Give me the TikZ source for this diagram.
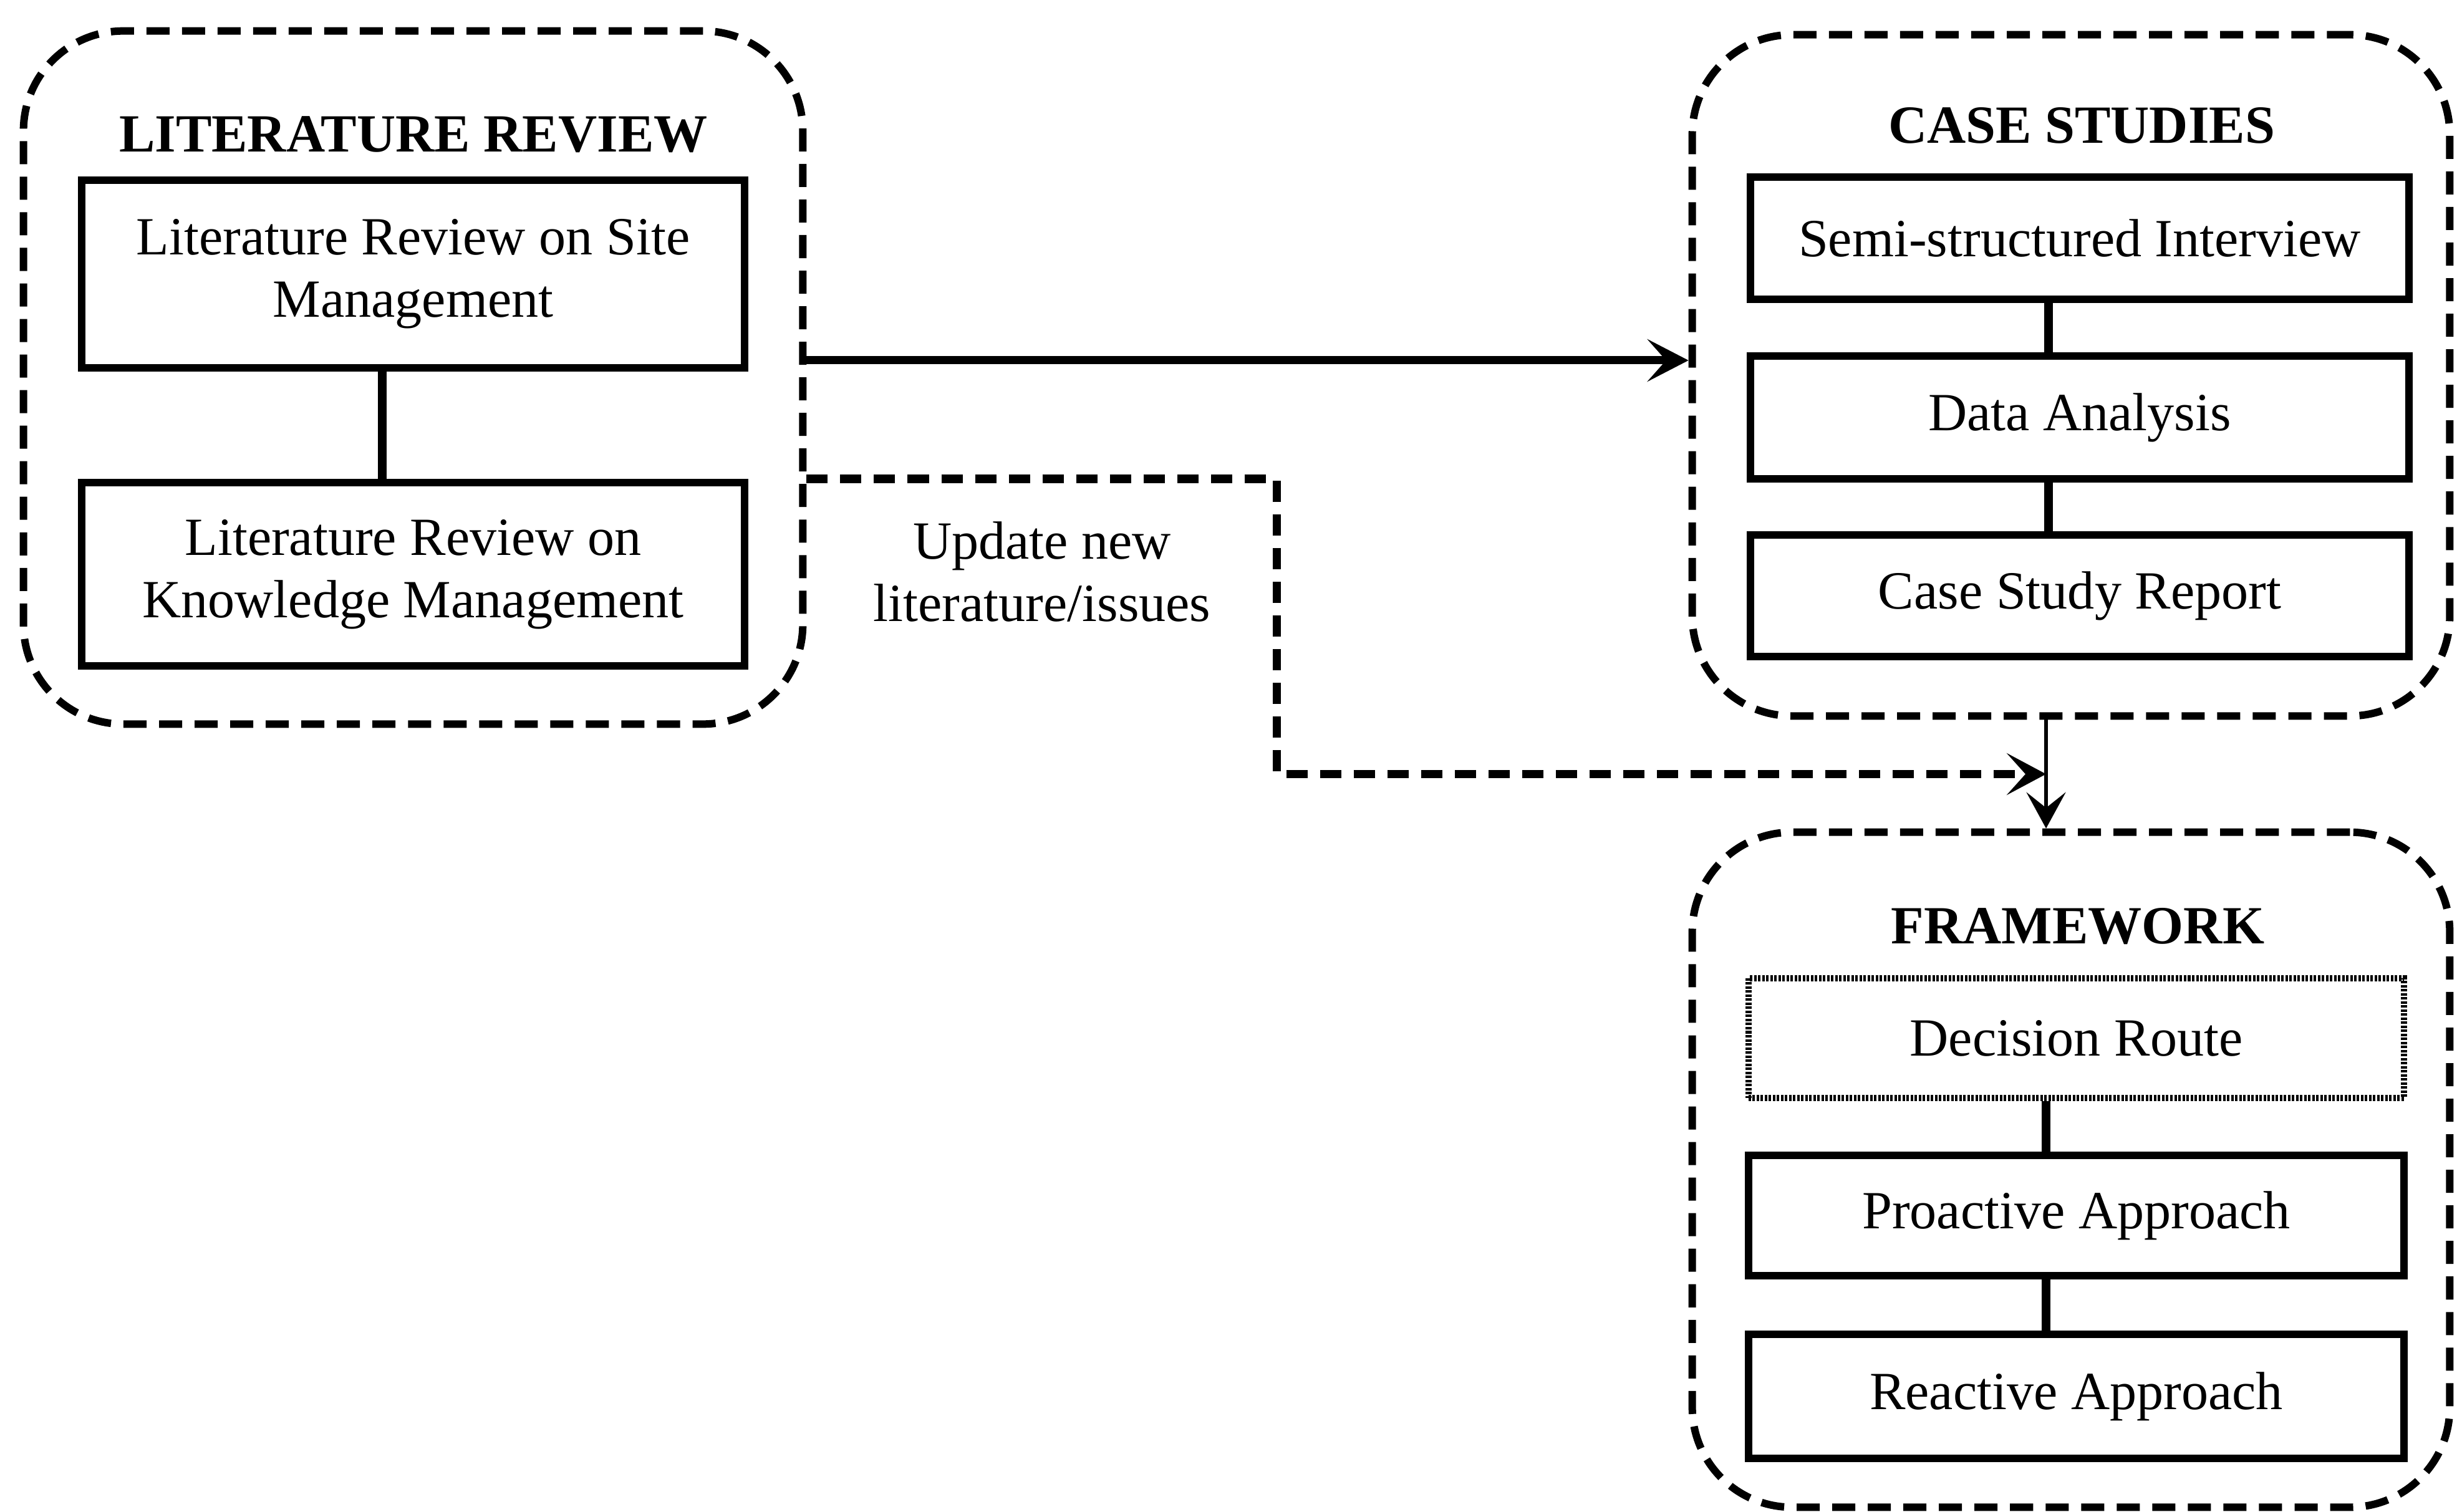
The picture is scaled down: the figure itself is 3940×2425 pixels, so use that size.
\documentclass[tikz,border=0pt]{standalone}
\usepackage{fontspec}
\setmainfont{Liberation Serif}
\usetikzlibrary{arrows.meta,calc}

\begin{document}
\begin{tikzpicture}[x=0.01cm,y=-0.01cm,
  every node/.style={font=\fontsize{24.5}{28.5}\selectfont},
  group/.style={draw, rectangle, line width=0.12cm, dash pattern=on 0.37cm off 0.2cm,
    rounded corners=1.6cm, inner sep=0pt},
  stepbox/.style={draw, rectangle, line width=0.12cm, align=center, inner sep=0pt},
  dotbox/.style={stepbox, line width=0.1cm, dash pattern=on 0.04cm off 0.025cm},
  grouptitle/.style={font=\fontsize{24.5}{28.5}\selectfont\bfseries, anchor=base},
  link/.style={line width=0.14cm},
  flow/.style={line width=0.13cm, -{Stealth[length=0.66cm,width=0.68cm,inset=0.3cm]}},
  feedback/.style={line width=0.13cm, dash pattern=on 0.34cm off 0.2cm,
    -{Stealth[length=0.63cm,width=0.67cm,inset=0.3cm]}},
  thinflow/.style={line width=0.06cm, -{Stealth[length=0.58cm,width=0.63cm,inset=0.25cm]}},
]
\useasboundingbox (0,0) rectangle (3940,2425);

% dashed group frames
\node[group, minimum width=12.49cm, minimum height=11.11cm] (lrg) at (662.5,605.5) {};
\node[group, minimum width=12.14cm, minimum height=10.92cm] (csg) at (3321,602) {};
\node[group, minimum width=12.14cm, minimum height=10.82cm] (fwg) at (3321,1876) {};

% group titles
\node[grouptitle] (lrt) at (663,244) {LITERATURE REVIEW};
\node[grouptitle] (cst) at (3338,230) {CASE STUDIES};
\node[grouptitle] (fwt) at (3332,1513) {FRAMEWORK};

% literature review steps
\node[stepbox, minimum width=10.63cm, minimum height=3.01cm] (lr1) at (662.5,439.5)
  {Literature Review on Site\\Management};
\node[stepbox, minimum width=10.63cm, minimum height=2.94cm] (lr2) at (662.5,921)
  {Literature Review on\\Knowledge Management};

% case study steps
\node[stepbox, minimum width=10.56cm, minimum height=1.96cm] (si) at (3335,382)
  {Semi-structured Interview};
\node[stepbox, minimum width=10.56cm, minimum height=1.97cm] (da) at (3335,669.5)
  {Data Analysis};
\node[stepbox, minimum width=10.56cm, minimum height=1.95cm] (csr) at (3335,955.5)
  {Case Study Report};

% framework steps
\node[dotbox, minimum width=10.51cm, minimum height=1.92cm] (dr) at (3329.5,1665)
  {Decision Route};
\node[stepbox, minimum width=10.51cm, minimum height=1.93cm] (pa) at (3329.5,1949.5)
  {Proactive Approach};
\node[stepbox, minimum width=10.51cm, minimum height=1.99cm] (ra) at (3329.5,2239.5)
  {Reactive Approach};

% feedback label
\node[align=center] (upd) at (1671,917) {Update new\\literature/issues};

% guide coordinates
\coordinate (lrx) at (613,0);
\coordinate (csx) at (3285,0);
\coordinate (fwx) at (3281,0);
\coordinate (mainy) at (0,578);
\coordinate (upy) at (0,768);
\coordinate (bendx) at (2047,0);
\coordinate (merge) at ($(csg.south -| fwx)!0.5!(fwg.north -| fwx)$);

% links inside groups
\draw[link] (lr1.south -| lrx) -- (lr2.north -| lrx);
\draw[link] (si.south -| csx) -- (da.north -| csx);
\draw[link] (da.south -| csx) -- (csr.north -| csx);
\draw[link] (dr.south -| fwx) -- (pa.north -| fwx);
\draw[link] (pa.south -| fwx) -- (ra.north -| fwx);

% flow between groups
\draw[flow] (lrg.east |- mainy) -- (csg.west |- mainy);
\draw[thinflow] (csg.south -| fwx) -- (fwg.north -| fwx);
\draw[feedback] (lrg.east |- upy) -- (bendx |- upy) -- (bendx |- merge) -- (merge);
\end{tikzpicture}
\end{document}
